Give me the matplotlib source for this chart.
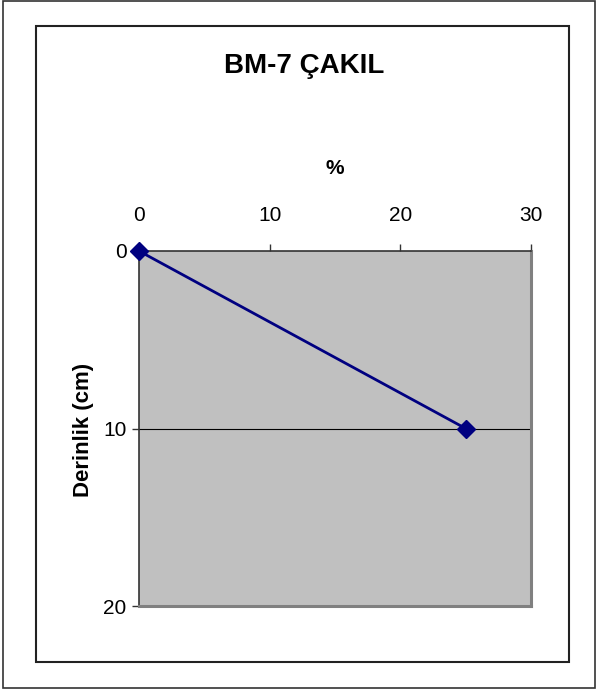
import matplotlib.pyplot as plt
from matplotlib.patches import Rectangle

# ======================
# DATA
# ======================
percent = [0, 25]
depth = [0, 10]
x_ticks = [0, 10, 20, 30]
y_ticks = [0, 10, 20]

TITLE = "BM-7 ÇAKIL"
X_LABEL = "%"
Y_LABEL = "Derinlik (cm)"

W, H = 599, 691

plt.rcParams["font.family"] = ["Liberation Sans", "DejaVu Sans"]

fig = plt.figure(figsize=(W / 100, H / 100), dpi=100)


def fx(px):
    return px / W


def fy(py):
    return 1 - py / H


# outer frames
fig.patches.append(Rectangle((fx(3), fy(688)), fx(595) - fx(3), fy(1) - fy(688),
                             transform=fig.transFigure, fill=False,
                             edgecolor="#333333", linewidth=1.2))
fig.patches.append(Rectangle((fx(36), fy(662)), fx(569) - fx(36), fy(26) - fy(662),
                             transform=fig.transFigure, fill=False,
                             edgecolor="#222222", linewidth=1.5))

# plot area
ax = fig.add_axes([fx(139), fy(606), fx(531) - fx(139), fy(251) - fy(606)])
ax.set_facecolor("#c0c0c0")

ax.set_xlim(0, 30)
ax.set_ylim(20, 0)
ax.xaxis.tick_top()
ax.set_xticks(x_ticks)
ax.set_yticks(y_ticks)
ax.tick_params(axis="both", direction="out", length=5, width=1, color="#333333",
               labelsize=15, pad=4)
ax.tick_params(axis="x", pad=14)

ax.axhline(10, color="black", linewidth=0.8, zorder=1)

ax.plot(percent, depth, color="#000080", linewidth=2, marker="D",
        markersize=9, markerfacecolor="#000080", markeredgecolor="#000080",
        clip_on=False, zorder=5)

for side in ["top", "left"]:
    ax.spines[side].set_color("#333333")
    ax.spines[side].set_linewidth(1.2)
for side in ["right", "bottom"]:
    ax.spines[side].set_color("#808080")
    ax.spines[side].set_linewidth(2.2)

# labels and title
fig.text(fx(335), fy(168), X_LABEL, fontsize=15, fontweight="bold",
         ha="center", va="center")
fig.text(fx(84), fy(430), Y_LABEL, fontsize=16, fontweight="bold",
         ha="center", va="center", rotation=90)
fig.text(fx(304), fy(66), TITLE, fontsize=20, fontweight="bold",
         ha="center", va="center")

plt.savefig("out.png", dpi=100)
plt.close()
